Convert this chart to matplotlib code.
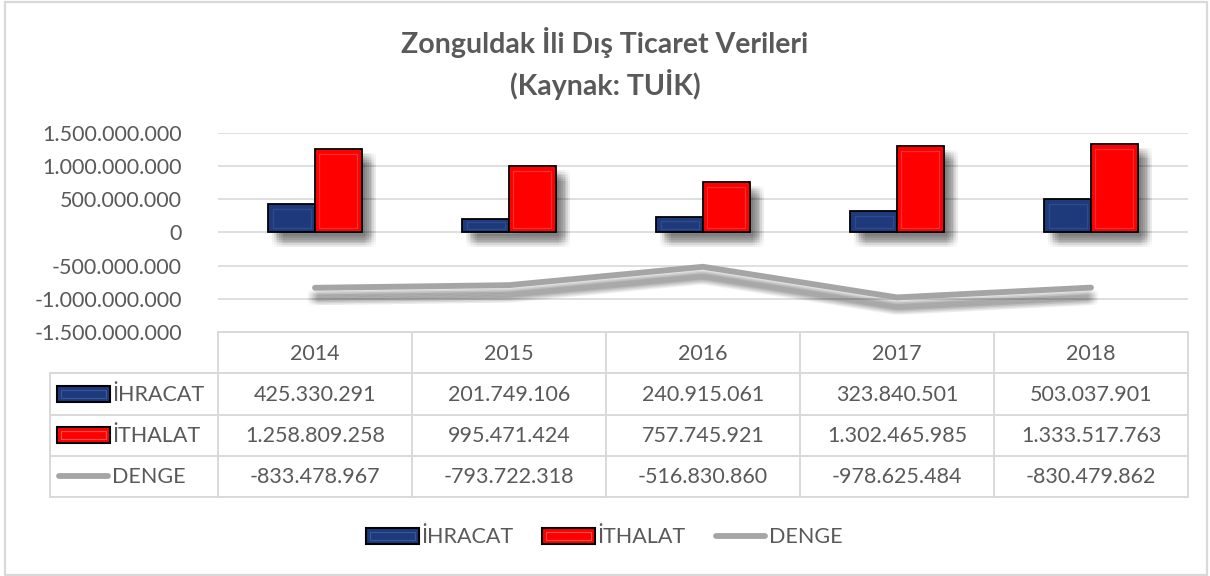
import matplotlib
matplotlib.use("Agg")
import matplotlib.pyplot as plt
import matplotlib.patheffects as pe
from matplotlib.patches import Rectangle
from matplotlib.lines import Line2D

plt.rcParams['font.family'] = ['Lato', 'DejaVu Sans']

# ---- data -------------------------------------------------------------
years = ["2014", "2015", "2016", "2017", "2018"]
ihracat = [425330291, 201749106, 240915061, 323840501, 503037901]
ithalat = [1258809258, 995471424, 757745921, 1302465985, 1333517763]
denge = [-833478967, -793722318, -516830860, -978625484, -830479862]
series_names = ["İHRACAT", "İTHALAT", "DENGE"]
y_ticks = [-1500000000, -1000000000, -500000000, 0, 500000000, 1000000000, 1500000000]
title_line1 = "Zonguldak İli Dış Ticaret Verileri"
title_line2 = "(Kaynak: TUİK)"

# ---- style ------------------------------------------------------------
TXT = "#595959"
GRID = "#d9d9d9"
BLUE, BLUE_L = "#1f3a7a", "#3557a0"
RED, RED_L = "#ff0000", "#ff5050"
GRAY = "#a5a5a5"
FS = 15.5

W, H = 1210, 576
fig = plt.figure(figsize=(W / 100, H / 100), dpi=100)


def px(x0, y0, x1, y1):
    """pixel box (top-left origin) -> figure fraction rect"""
    return [x0 / W, 1 - y1 / H, (x1 - x0) / W, (y1 - y0) / H]


# overlay in pixel units for frame, table and legend
ov = fig.add_axes([0, 0, 1, 1], zorder=0)
ov.set_xlim(0, W)
ov.set_ylim(H, 0)
ov.axis("off")

# outer chart border
ov.add_patch(Rectangle((4.5, 1.5), W - 8, H - 3, fill=False, ec=GRID, lw=1.6))

PL, PR, PT, PB = 218, 1188, 133, 332
ax = fig.add_axes(px(PL, PT, PR, PB), zorder=2)
ax.patch.set_alpha(0)
n = len(years)
ax.set_xlim(-0.5, n - 0.5)
ax.set_ylim(-1.5e9, 1.5e9)
ax.set_yticks(y_ticks)
ax.set_yticklabels([f"{v:,}".replace(",", ".") for v in y_ticks])
ax.tick_params(axis="y", length=0, pad=26, labelsize=FS, labelcolor=TXT)
ax.set_xticks([])
for s in ax.spines.values():
    s.set_visible(False)
ax.grid(axis="y", color=GRID, lw=1.2)
ax.set_axisbelow(True)


def soft_shadow(dx, dy, spread, steps, alpha, line=False, lw=None):
    effects = []
    for i in range(-steps, steps + 1):
        for j in range(-steps, steps + 1):
            off = (dx + i * spread, dy + j * spread)
            if line:
                effects.append(pe.SimpleLineShadow(offset=off, shadow_color="black",
                                                   alpha=alpha, linewidth=lw))
            else:
                effects.append(pe.SimplePatchShadow(offset=off, shadow_rgbFace="black",
                                                    alpha=alpha))
    return effects


bar_fx = soft_shadow(6.5, -6.5, 1.3, 3, 0.010) + [pe.Normal()]
bw = 0.24
ins_x = 0.022
for i in range(n):
    for val, off, col, lt in ((ihracat[i], -bw / 2, BLUE, BLUE_L), (ithalat[i], bw / 2, RED, RED_L)):
        x0 = i + off - bw / 2
        r = Rectangle((x0, 0), bw, val, fc=col, ec="black", lw=1.3, zorder=3)
        r.set_path_effects(bar_fx)
        ax.add_patch(r)
        ins_y = min(70e6, val * 0.25)
        inner = Rectangle((x0 + ins_x, ins_y), bw - 2 * ins_x, val - 2 * ins_y,
                          fc="none", ec=lt, lw=0.9, zorder=4, alpha=0.6)
        ax.add_patch(inner)

xs = list(range(n))
ln, = ax.plot(xs, denge, color=GRAY, lw=4.2, solid_capstyle="round", zorder=5)
ln.set_path_effects(soft_shadow(0, -7, 1.1, 3, 0.010, line=True, lw=4.5) + [pe.Normal()])

# ---- title ------------------------------------------------------------
ov.text(W / 2, 43, title_line1, ha="center", va="center", fontsize=20.5, fontweight="bold",
        color=TXT)
ov.text(W / 2, 85, title_line2, ha="center", va="center", fontsize=20.5, fontweight="bold",
        color=TXT)

# ---- data table -------------------------------------------------------
TL, T0, RH = 50, 332, 41.25
col_edges = [PL + k * (PR - PL) / n for k in range(n + 1)]
col_mid = [(col_edges[k] + col_edges[k + 1]) / 2 for k in range(n)]
lkw = dict(color=GRID, lw=1.4, zorder=1)
ov.plot([PL, PR], [T0, T0], **lkw)
for xe in col_edges:
    ov.plot([xe, xe], [T0, T0 + 4 * RH], **lkw)
ov.plot([TL, TL], [T0 + RH, T0 + 4 * RH], **lkw)
for r in range(1, 5):
    ov.plot([TL, PR], [T0 + r * RH, T0 + r * RH], **lkw)
for k, yv in enumerate(years):
    ov.text(col_mid[k], T0 + RH / 2 + 1, yv, ha="center", va="center", fontsize=FS, color=TXT)

rows = [ihracat, ithalat, denge]
for r, vals in enumerate(rows):
    yc = T0 + (r + 1.5) * RH
    for k, v in enumerate(vals):
        ov.text(col_mid[k], yc + 1, f"{v:,}".replace(",", "."), ha="center", va="center",
                fontsize=FS, color=TXT)


def key(x0, yc, kind):
    if kind == 2:
        ov.add_line(Line2D([x0 + 2, x0 + 51], [yc, yc], color=GRAY, lw=4.2,
                           solid_capstyle="round", zorder=3))
        return
    col, lt = (BLUE, BLUE_L) if kind == 0 else (RED, RED_L)
    ov.add_patch(Rectangle((x0, yc - 8), 53, 16, fc=col, ec="black", lw=1.5, zorder=3))
    ov.add_patch(Rectangle((x0 + 4, yc - 4), 45, 8, fc="none", ec=lt, lw=0.8, zorder=4))


for r in range(3):
    yc = T0 + (r + 1.5) * RH
    key(57, yc, r)
    ov.text(112, yc + 1, series_names[r], ha="left", va="center", fontsize=FS, color=TXT)

# ---- legend -----------------------------------------------------------
LY = 536
for r, x0 in enumerate([366, 542, 714]):
    key(x0, LY, r)
    ov.text(x0 + 55, LY + 1, series_names[r], ha="left", va="center", fontsize=FS, color=TXT)

fig.savefig("out.png", dpi=100)
